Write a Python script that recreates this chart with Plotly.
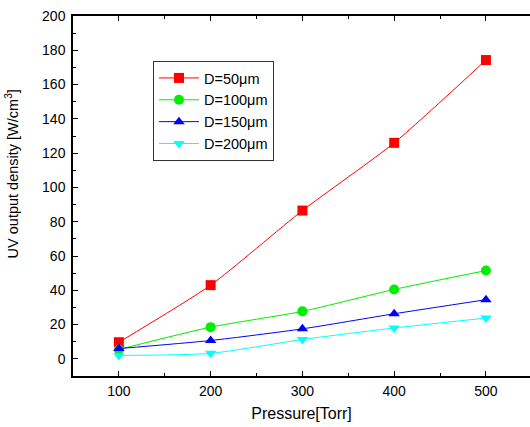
import plotly.graph_objects as go

pressure = [100, 200, 300, 400, 500]
d50 = [9.7, 43.0, 86.5, 126.0, 174.3]
d100 = [5.5, 18.5, 27.7, 40.5, 51.5]
d150 = [6.0, 10.7, 17.5, 26.3, 34.5]
d200 = [2.0, 3.2, 11.3, 18.0, 23.8]
names = ["D=50μm", "D=100μm", "D=150μm", "D=200μm"]
colors = ["#ff0000", "#00ee00", "#0000ff", "#00ffff"]
symbols = ["square", "circle", "triangle-up", "triangle-down"]
y_title = "UV output density [W/cm<sup>3</sup>]"
x_title = "Pressure[Torr]"

fig = go.Figure()
for ys, nm, c, s in zip([d50, d100, d150, d200], names, colors, symbols):
    fig.add_trace(go.Scatter(
        x=pressure, y=ys, name=nm, mode="lines+markers",
        line=dict(color=c, width=1, shape="spline", smoothing=0.6),
        marker=dict(symbol=s, size=10, color=c, line=dict(width=0)),
    ))

font_family = "Liberation Sans, Arial, sans-serif"
axis_common = dict(
    showgrid=False, zeroline=False, showline=True, linecolor="black", linewidth=1.5,
    ticks="inside", ticklen=5, tickwidth=1, tickcolor="black",
    tickfont=dict(size=14, color="black", family=font_family),
)
fig.update_layout(
    width=530, height=427,
    margin=dict(l=73, r=0, t=16, b=51),
    paper_bgcolor="white", plot_bgcolor="white",
    font=dict(family=font_family, color="black"),
    showlegend=True,
    legend=dict(
        x=0.175, y=0.875, xanchor="left", yanchor="top",
        bordercolor="#333333", borderwidth=1, bgcolor="white",
        font=dict(size=14.5, family=font_family, color="black"),
        tracegroupgap=0, itemwidth=40,
    ),
    xaxis=dict(
        range=[50, 548], tickvals=[100, 200, 300, 400, 500], mirror="ticks",
        ticklabelstandoff=1,
        minor=dict(tickvals=[150, 250, 350, 450], ticks="inside", ticklen=3, tickcolor="black"),
        title=dict(text=x_title, font=dict(size=16), standoff=10),
        **axis_common,
    ),
    yaxis=dict(
        range=[-10, 200], tickvals=[0, 20, 40, 60, 80, 100, 120, 140, 160, 180, 200], mirror=False,
        ticklabelstandoff=3,
        minor=dict(dtick=10, tick0=0, ticks="inside", ticklen=3, tickcolor="black"),
        **axis_common,
    ),
    annotations=[dict(
        text=y_title, textangle=-90, xref="paper", yref="paper",
        x=0, y=0.56, xanchor="center", yanchor="middle", xshift=-61,
        showarrow=False, font=dict(size=14.5, color="black", family=font_family),
    )],
)
fig.write_html("out.html")
